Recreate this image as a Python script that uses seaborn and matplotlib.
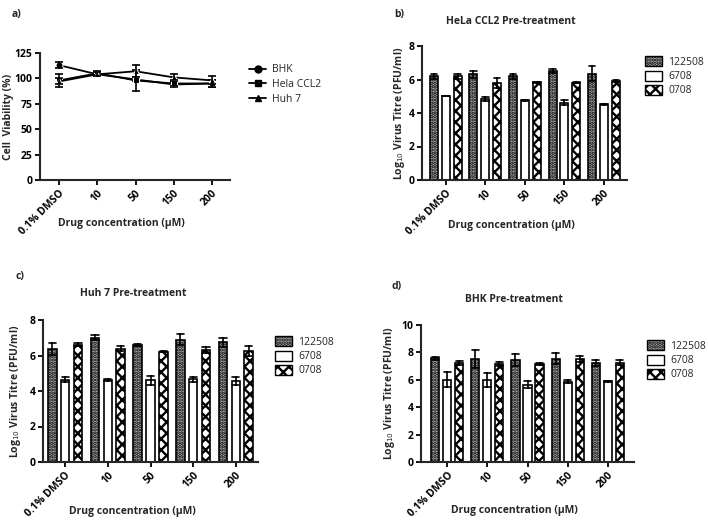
import numpy as np
import pandas as pd
import matplotlib
matplotlib.use("Agg")
import matplotlib.pyplot as plt
import seaborn as sns
from matplotlib.patches import Patch
from matplotlib.lines import Line2D

# ---------------- data ----------------
concs = ["0.1% DMSO", "10", "50", "150", "200"]

# panel a: cell viability (%)
cells = ["BHK", "Hela CCL2", "Huh 7"]
via_bhk = [113, 104, 99, 94, 95]
via_bhk_err = [3, 2, 2, 2, 3]
via_hela = [98, 105, 98, 95, 95]
via_hela_err = [6, 2, 10, 2, 3]
via_huh = [97, 104, 107, 101, 98]
via_huh_err = [3, 2, 6, 3, 4]

strains = ["122508", "6708", "0708"]
# panel b: HeLa CCL2
hela_122508 = [6.2, 6.3, 6.2, 6.5, 6.35]
hela_122508_err = [0.15, 0.2, 0.15, 0.12, 0.45]
hela_6708 = [5.0, 4.86, 4.75, 4.6, 4.52]
hela_6708_err = [0.0, 0.12, 0.05, 0.15, 0.04]
hela_0708 = [6.2, 5.8, 5.85, 5.8, 5.9]
hela_0708_err = [0.15, 0.3, 0.03, 0.03, 0.06]
# panel c: Huh 7
huh_122508 = [6.38, 7.0, 6.6, 6.9, 6.75]
huh_122508_err = [0.33, 0.15, 0.07, 0.33, 0.25]
huh_6708 = [4.64, 4.62, 4.6, 4.65, 4.55]
huh_6708_err = [0.15, 0.03, 0.25, 0.13, 0.22]
huh_0708 = [6.6, 6.38, 6.2, 6.3, 6.25]
huh_0708_err = [0.08, 0.15, 0.03, 0.18, 0.27]
# panel d: BHK
bhk_122508 = [7.57, 7.5, 7.45, 7.55, 7.25]
bhk_122508_err = [0.1, 0.65, 0.45, 0.4, 0.22]
bhk_6708 = [6.0, 6.0, 5.63, 5.85, 5.9]
bhk_6708_err = [0.55, 0.5, 0.25, 0.1, 0.03]
bhk_0708 = [7.25, 7.15, 7.15, 7.5, 7.25]
bhk_0708_err = [0.15, 0.12, 0.07, 0.22, 0.18]

# ---------------- style ----------------
sns.set_theme(style="ticks")
plt.rcParams["font.family"] = ["Open Sans", "DejaVu Sans"]
plt.rcParams["hatch.linewidth"] = 1.7
plt.rcParams["axes.linewidth"] = 1.5
plt.rcParams["xtick.major.width"] = 1.3
plt.rcParams["ytick.major.width"] = 1.3
plt.rcParams["xtick.major.size"] = 3.5
plt.rcParams["ytick.major.size"] = 3.5

W, H = 708, 526
fig = plt.figure(figsize=(W / 100, H / 100), dpi=100)


def rect(l, t, r, b):
    return [l / W, 1 - b / H, (r - l) / W, (b - t) / H]


def long_df(series_names, means, errs, keyname):
    rows = []
    for name, m, e in zip(series_names, means, errs):
        for c, mv, ev in zip(concs, m, e):
            rows.append({"conc": c, keyname: name, "value": mv - ev})
            rows.append({"conc": c, keyname: name, "value": mv + ev})
    return pd.DataFrame(rows)


def style_axis(ax, ylabel, yticks, xlab_xy, ylab_xy):
    sns.despine(ax=ax)
    ax.set_xlabel("Drug concentration (\u03bcM)", fontsize=7.5, fontweight="bold")
    ax.set_ylabel(ylabel, fontsize=7.5, fontweight="bold")
    ax.xaxis.set_label_coords(*xlab_xy)
    ax.yaxis.set_label_coords(*ylab_xy)
    ax.set_yticks(yticks)
    ax.set_xticks(range(len(concs)))
    ax.set_xticklabels(concs, rotation=45, ha="right", rotation_mode="anchor",
                       fontsize=7.5, fontweight="bold")
    for t in ax.get_yticklabels():
        t.set_fontweight("bold")
        t.set_fontsize(7.5)
    ax.tick_params(axis="both", pad=2, colors="black")


# ---------------- panel a ----------------
axa = fig.add_axes(rect(40, 53, 230, 180))
dfa = long_df(cells, [via_bhk, via_hela, via_huh], [via_bhk_err, via_hela_err, via_huh_err], "cell")
dfa["x"] = dfa["conc"].map({c: i for i, c in enumerate(concs)})
markers = {"BHK": "o", "Hela CCL2": "s", "Huh 7": "^"}
sns.lineplot(data=dfa, x="x", y="value", hue="cell", style="cell",
             palette=["black"] * 3, markers=markers, dashes=False,
             errorbar=("pi", 100), err_style="bars",
             err_kws={"capsize": 3, "elinewidth": 1.2, "capthick": 1.2},
             markersize=5, linewidth=1.3, ax=axa, legend=False)
axa.set_ylim(0, 125)
axa.set_xlim(-0.5, 4.47)
style_axis(axa, "Cell  Viability (%)", [0, 25, 50, 75, 100, 125], (0.43, -0.30), (-0.135, 0.5))
handles_a = [Line2D([], [], color="black", marker=markers[c], markersize=5, linewidth=1.3) for c in cells]
fig.legend(handles_a, cells, loc="upper left", bbox_to_anchor=(240 / W, 1 - 55 / H),
           frameon=False, fontsize=7.5, handlelength=1.6, labelspacing=0.35, handletextpad=0.6)

# ---------------- bar panels ----------------
facecolors = ["#b4b4b4", "white", "white"]
hatches = [".....", None, "xxx"]


def bar_panel(box, means, errs, ylim, yticks, xlim, title, title_xy, legend_xy, xlab_xy, ylab_xy):
    ax = fig.add_axes(rect(*box))
    df = long_df(strains, means, errs, "strain")
    sns.barplot(data=df, x="conc", y="value", hue="strain", order=concs, hue_order=strains,
                estimator="mean", errorbar=("pi", 100), capsize=0.5,
                err_kws={"color": "black", "linewidth": 1.2},
                width=0.9, gap=0.33, palette=["white"] * 3,
                edgecolor="black", linewidth=1.2, ax=ax, legend=False)
    for cont, fc, h in zip(ax.containers, facecolors, hatches):
        for p in cont:
            p.set_facecolor(fc)
            p.set_hatch(h)
            p.set_edgecolor("black")
    ax.set_ylim(*ylim)
    ax.set_xlim(*xlim)
    style_axis(ax, "Log$_{10}$ Virus Titre (PFU/ml)", yticks, xlab_xy, ylab_xy)
    fig.text(title_xy[0] / W, 1 - title_xy[1] / H, title, ha="center", va="center",
             fontsize=7.5, fontweight="bold")
    handles = [Patch(facecolor=fc, edgecolor="black", hatch=h, linewidth=1.0)
               for fc, h in zip(facecolors, hatches)]
    fig.legend(handles, strains, loc="upper left",
               bbox_to_anchor=(legend_xy[0] / W, 1 - legend_xy[1] / H),
               frameon=False, fontsize=7.5, handlelength=1.6, handleheight=1.1,
               labelspacing=0.25, handletextpad=0.6)
    return ax


bar_panel((422, 46, 627, 180), [hela_122508, hela_6708, hela_0708],
          [hela_122508_err, hela_6708_err, hela_0708_err],
          (0, 8), [0, 2, 4, 6, 8], (-0.6, 4.58),
          "HeLa CCL2 Pre-treatment", (511, 22), (636, 47), (0.434, -0.30), (-0.075, 0.5))
bar_panel((43, 320, 258, 462), [huh_122508, huh_6708, huh_0708],
          [huh_122508_err, huh_6708_err, huh_0708_err],
          (0, 8), [0, 2, 4, 6, 8], (-0.52, 4.52),
          "Huh 7 Pre-treatment", (133, 294), (266, 327), (0.414, -0.31), (-0.093, 0.5))
bar_panel((421, 325, 634, 462), [bhk_122508, bhk_6708, bhk_0708],
          [bhk_122508_err, bhk_6708_err, bhk_0708_err],
          (0, 10), [0, 2, 4, 6, 8, 10], (-0.66, 4.66),
          "BHK Pre-treatment", (514, 300), (638, 331), (0.437, -0.314), (-0.113, 0.5))

# panel letters
for lab, x, y in [("a)", 12, 15), ("b)", 394, 15), ("c)", 15, 277), ("d)", 392, 286)]:
    fig.text(x / W, 1 - y / H, lab, ha="left", va="center", fontsize=7.5, fontweight="bold")

fig.savefig("out.png", dpi=100)
